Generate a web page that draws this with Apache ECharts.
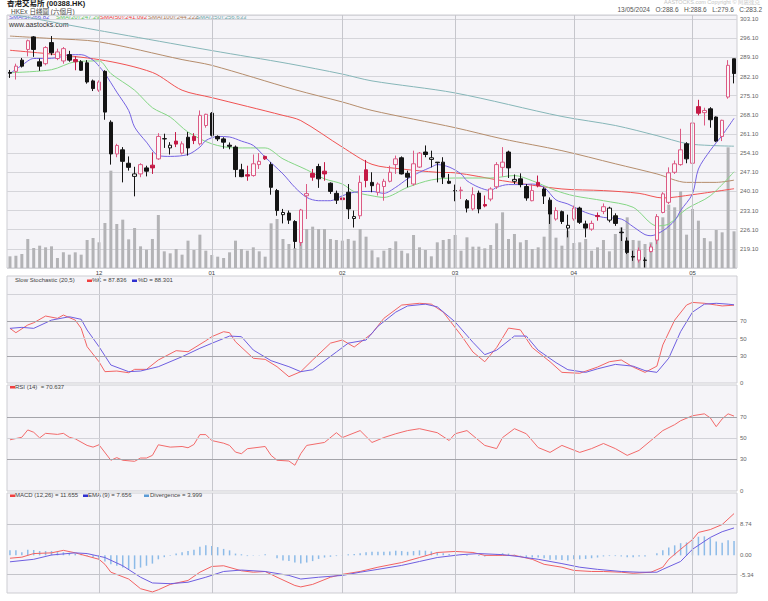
<!DOCTYPE html>
<html><head><meta charset="utf-8">
<script src="https://cdn.jsdelivr.net/npm/echarts@6/dist/echarts.min.js"></script>
<style>html,body{margin:0;padding:0;background:#fff}#c{width:768px;height:601px}</style>
</head><body><div id="c"></div>
<script>
// ---- trading days (categories) ----
const monthDays = [
 ['2023-11',[10,13,14,15,16,17,20,21,22,23,24,27,28,29,30]],
 ['2023-12',[1,4,5,6,7,8,11,12,13,14,15,18,19,20,21,22,27,28,29]],
 ['2024-01',[2,3,4,5,8,9,10,11,12,15,16,17,18,19,22,23,24,25,26,29,30,31]],
 ['2024-02',[1,2,5,6,7,8,9,14,15,16,19,20,21,22,23,26,27,28,29]],
 ['2024-03',[1,4,5,6,7,8,11,12,13,14,15,18,19,20,21,22,25,26,27,28]],
 ['2024-04',[2,3,5,8,9,10,11,12,15,16,17,18,19,22,23,24,25,26,29,30]],
 ['2024-05',[2,3,6,7,8,9,10,13]]
];
// ---- daily [open, high, low, close] ----
const ohlc = [
[283.6,284.5,281.6,283.3],[284.0,286.8,281.0,285.9],[288.1,288.9,285.4,285.9],[292.0,295.6,289.5,295.2],[296.6,296.9,289.3,292.0],
[287.5,288.7,284.2,285.9],[286.8,293.2,286.2,292.7],[294.5,296.9,289.9,290.8],[288.7,292.3,288.1,291.1],[287.8,292.9,286.8,292.3],
[290.1,291.5,287.5,288.1],[288.3,289.5,284.4,287.5],[287.5,288.1,284.2,284.4],[287.1,288.1,279.5,280.1],[280.5,281.0,276.8,277.7],
[277.1,280.7,276.5,280.1],[284.0,284.4,266.3,269.1],[265.4,266.1,249.9,253.8],[253.8,257.5,252.6,256.9],[255.3,256.3,243.4,251.1],
[250.4,252.9,247.7,248.9],[245.6,249.1,238.3,246.5],[246.5,250.4,245.3,249.9],[248.7,249.5,245.6,247.5],[249.7,254.4,246.5,248.7],
[252.0,261.4,251.6,260.2],[259.4,261.2,256.0,259.3],[256.0,258.1,253.6,257.0],[258.5,261.8,256.3,257.4],[254.1,258.4,253.6,257.5],
[259.9,261.8,253.2,256.0],[260.2,261.4,257.4,258.7],[257.5,269.7,256.9,267.9],[264.2,268.5,263.4,268.3],[268.7,269.1,260.2,260.6],
[260.2,260.6,258.5,259.3],[259.3,259.9,255.7,258.1],[257.0,258.0,255.5,256.6],[256.3,256.9,245.3,248.1],[248.0,250.2,245.3,245.5],
[246.2,249.5,244.0,245.7],[245.9,253.6,245.5,250.2],[249.9,254.1,248.3,251.1],[252.9,253.2,251.6,252.0],[249.9,250.8,238.9,241.6],
[240.4,241.0,231.2,233.1],[231.6,233.7,228.4,232.4],[232.2,233.1,228.2,229.6],[229.1,229.6,219.3,221.8],[221.4,233.7,220.2,233.3],
[238.5,242.8,230.0,239.3],[246.7,248.3,244.0,245.3],[249.2,250.2,241.4,244.7],[247.5,250.8,244.0,246.5],[243.1,243.4,239.2,240.1],
[239.4,240.4,235.5,236.9],[237.7,238.5,235.5,237.1],[239.8,242.8,230.0,233.7],[230.2,233.1,226.9,230.9],[231.2,245.9,230.0,243.4],
[248.0,251.6,241.6,244.1],[243.4,247.1,239.8,242.2],[239.8,243.4,238.6,242.8],[241.9,244.7,236.7,243.8],[243.8,249.5,243.4,247.1],
[249.9,253.2,246.5,252.0],[252.4,252.9,246.3,246.5],[246.7,247.7,241.6,245.3],[242.8,255.0,242.2,250.2],[249.0,254.5,248.7,254.1],
[254.5,256.9,252.6,253.6],[251.8,255.0,248.9,252.4],[250.8,250.8,243.4,250.6],[250.8,252.6,242.8,245.3],[243.8,246.5,242.8,243.1],
[240.4,242.6,236.5,240.3],[240.4,241.8,237.3,240.6],[236.7,237.3,232.4,234.0],[233.7,241.6,233.1,238.9],[239.5,240.4,232.1,233.7],
[235.3,238.6,234.3,234.8],[237.3,241.6,236.5,241.0],[241.8,250.8,241.0,249.9],[248.9,256.3,245.5,250.8],[254.5,255.0,245.0,248.7],
[243.8,246.3,242.8,244.5],[244.7,246.7,241.6,242.6],[241.9,242.8,236.7,237.7],[236.7,242.8,236.5,240.4],[243.4,245.9,241.6,242.2],
[241.0,241.6,235.5,238.4],[236.9,237.9,228.2,231.8],[230.0,234.3,229.4,233.1],[232.7,233.1,228.2,229.1],[226.7,231.6,223.3,227.7],
[230.0,234.9,229.4,234.0],[234.0,234.5,228.2,228.8],[228.2,229.4,223.3,226.7],[226.3,229.4,225.7,228.4],[231.3,232.4,229.4,230.9],
[232.8,235.7,231.8,234.5],[229.6,234.5,228.8,234.0],[231.2,232.1,227.5,228.4],[225.2,226.9,222.0,225.0],[222.0,223.3,217.2,217.8],
[216.3,218.4,214.7,216.1],[215.0,219.6,214.1,218.6],[215.0,216.0,212.3,214.9],[218.1,220.8,217.8,219.8],[222.3,231.8,220.8,230.9],
[232.4,239.8,232.1,239.2],[236.1,248.9,235.5,246.9],[247.1,251.4,246.5,250.2],[249.9,263.0,249.5,255.3],[257.5,258.1,250.4,252.0],
[250.4,266.1,250.2,265.1],[271.1,273.6,267.9,268.7],[268.9,270.7,264.2,269.7],[270.3,270.9,263.4,266.3],[267.3,267.5,258.1,258.5],
[260.2,266.3,258.5,266.1],[274.6,288.1,274.0,286.2],[288.6,288.6,279.6,283.2]
];
const crimsonDays = [11,24,28,31,40,43,51,53,56,60,80,89,99,116];
const hollowBlackDays = [21,27,46,58,71,85,94,101];
const volume = [3.5,3.7,4.2,8.7,6.0,6.7,6.2,6.5,3.0,4.7, 4.0,4.7,4.0,8.4,9.0,7.7,13.5,29.2,13.2,14.5,
 8.6,12.0,6.5,5.5,8.7,15.9,5.0,4.4,5.7,4.0, 8.2,5.4,10.0,5.2,3.9,3.4,3.0,4.7,8.2,5.7,
 5.2,6.2,5.0,3.4,13.4,14.7,8.7,7.2,6.0,9.2, 11.7,12.4,11.7,11.7,8.7,8.4,8.2,8.7,8.2,11.7,
 9.4,5.3,3.2,5.2,6.0,8.0,5.2,4.4,9.9,6.2, 5.4,3.5,7.7,8.4,8.7,9.9,5.2,9.2,6.4,6.4,
 5.9,6.9,13.4,16.7,8.7,10.2,7.7,8.4,5.7,6.2, 9.4,16.0,9.1,6.7,11.2,7.5,7.7,8.7,5.2,6.2,
 8.4,5.0,10.2,12.2,15.2,8.4,8.2,7.2,7.7,12.2, 15.2,19.0,18.2,23.0,10.0,17.7,14.2,9.0,8.0,11.4,
 10.7,36.2,11.0];
// ---- moving averages read at [dayIndex, value] ----
const sma5 = [[0,283.2],[2,286.2],[4,288.7],[6,288.7],[8,289.0],[10,290.1],[12,290.1],[14,288.1],[15,285.9],[16,283.2],[18,276.4],[20,269.7],[21,263.6],[23,258.1],[25,253.2],[27,252.9],[30,253.6],[32,256.3],[33,258.7],[35,260.2],[37,260.0],[39,258.5],[41,256.9],[43,252.6],[46,246.5],[48,241.6],[50,237.9],[52,236.7],[54,236.7],[56,238.5],[58,239.8],[61,240.1],[63,239.4],[65,241.6],[67,244.7],[69,247.1],[71,249.0],[72,249.9],[74,249.0],[76,246.5],[77,244.0],[79,241.6],[81,240.4],[82,241.6],[84,242.6],[86,242.6],[88,242.8],[90,241.6],[92,237.0],[94,235.5],[97,232.4],[100,230.6],[103,230.0],[105,227.2],[107,224.3],[108,223.9],[110,225.7],[112,229.4],[113,233.1],[115,239.2],[116,248.3],[118,255.1],[120,260.6],[122,266.82]];
const sma20 = [[0,283.5],[7,284.6],[11,287.5],[15,287.8],[17,283.2],[21,277.1],[24,270.7],[27,267.3],[30,261.8],[34,257.5],[38,256.0],[43,256.0],[46,252.0],[50,248.0],[53,244.7],[56,242.8],[58,240.0],[61,238.5],[63,237.9],[67,241.6],[71,244.3],[75,245.0],[81,245.0],[85,245.9],[88,244.0],[92,240.4],[95,238.5],[100,236.7],[105,234.3],[109,227.5],[111,228.2],[114,233.7],[118,238.5],[122,247.29]];
const sma50 = [[0,291.7],[15,288.3],[24,283.6],[29,277.1],[34,274.4],[46,267.9],[49,266.0],[56,256.3],[61,250.0],[66,248.3],[72,247.1],[75,246.9],[83,244.0],[93,241.0],[100,240.4],[106,239.4],[110,237.7],[115,238.9],[122,241.092]];
const sma100 = [[0,296.9],[7,296.0],[15,294.8],[29,288.3],[34,286.2],[48,277.3],[56,272.8],[61,269.7],[75,263.4],[83,259.3],[93,255.0],[102,250.2],[109,246.5],[114,243.4],[119,243.4],[122,244.222]];
const sma250 = [[0,305.0],[9,301.3],[20,297.0],[34,291.6],[47,286.8],[56,283.0],[61,280.5],[75,276.1],[93,267.5],[102,264.2],[109,260.5],[114,257.6],[118,256.9],[122,256.633]];
// ---- slow stochastic ----
const stochK = [[0,61.7],[1,56.8],[3,65.5],[4,68],[6,75.6],[8,73],[9,76.7],[11,71],[12,61.7],[13,41],[15,24],[16,12.8],[18,13.5],[20,11.6],[21,15.4],[23,15.4],[25,26],[28,36.5],[30,35.3],[33,47.7],[34,52.3],[36,57.9],[37,56.8],[38,46.6],[41,27.9],[43,26.7],[45,18.4],[47,7.1],[49,12.8],[51,26],[54,45],[56,48.5],[58,40.6],[61,56],[63,73],[66,88],[69,90],[71,89],[73,80],[76,54],[78,35],[80,24],[82,40],[84,62],[86,60],[88,40],[91,24],[93,12],[96,11],[99,18],[101,24],[103,26],[105,18],[107,12],[109,19],[110,43],[112,71],[114,88],[115,91],[117,90],[119,88],[120,87],[122,87.836]];
const stochD = [[0,61.7],[2,62.8],[4,61.7],[7,71],[10,74.8],[12,71.9],[13,59.8],[15,41],[17,20.3],[20,12.8],[22,13.5],[25,18.4],[29,29.7],[32,39.2],[34,44.8],[37,53],[39,52.3],[41,37.2],[44,25.2],[47,18.4],[49,12.8],[51,15],[55,35],[57,45],[60,48.5],[62,64],[65,80],[67,87],[70,89],[72,86],[75,69],[78,46],[80,32],[82,37],[85,53],[87,53],[89,37],[92,23],[94,15],[97,12],[99,16],[102,21],[105,19],[107,14],[109,12],[111,28],[113,58],[115,80],[117,89],[119,90],[121,89],[122,88.301]];
// ---- RSI(14) ----
const rsi = [[0,48.3],[2,50.7],[3,57.6],[4,55.4],[5,50.1],[6,54.4],[8,53.4],[9,54.4],[10,50.7],[11,49.2],[13,43],[14,41.4],[15,43.6],[17,29],[18,31.5],[19,29],[21,28],[22,31.1],[23,31.1],[24,33.6],[25,43.6],[27,41.4],[29,42],[30,40.8],[31,43.9],[32,53.2],[33,53.2],[34,47.6],[36,45.1],[37,43],[38,36.7],[39,35.2],[40,39.9],[43,42],[44,33.6],[45,29],[47,28.3],[48,24.3],[49,35.2],[50,43],[53,45.8],[55,55],[56,50.4],[59,57],[61,45.8],[63,50.4],[65,54],[67,57],[69,58.8],[72,55],[74,47.6],[75,54],[77,57],[80,43],[82,40],[83,50.4],[85,58.8],[87,54],[89,41],[91,36.4],[93,43],[96,36.4],[98,40],[100,44.8],[102,40],[104,33.6],[106,38.3],[108,47.6],[110,57],[112,62.6],[113,66.3],[115,71],[117,72.8],[118,69],[119,60.7],[120,68],[121,72.8],[122,70.637]];
// ---- MACD(12,26), EMA(9), divergence ----
const macd = [[0,-0.8],[2,-0.5],[4,0.5],[7,0.7],[9,1.4],[11,0.7],[13,-0.2],[15,-1.1],[16,-2.5],[17,-4.7],[20,-6.6],[22,-9.3],[24,-10.2],[25,-9.6],[27,-8.1],[30,-7.0],[32,-4.7],[34,-3.1],[36,-2.9],[39,-4.3],[41,-4.7],[43,-4.5],[45,-6.1],[48,-8.4],[49,-8.8],[51,-8.1],[54,-6.1],[56,-5.3],[59,-4.5],[62,-3.3],[66,-2.0],[69,-0.6],[72,0.8],[75,1.1],[78,0.8],[80,0],[83,0],[85,0],[88,-1.1],[90,-2.5],[93,-3.3],[95,-4.2],[98,-4.5],[100,-4.5],[103,-4.7],[105,-5.0],[108,-4.7],[110,-3.3],[111,-1.1],[113,1.7],[115,4.4],[116,6.4],[118,7.2],[120,8.6],[122,11.655]];
const ema9 = [[0,-1.8],[4,-1.1],[7,0.1],[11,0.7],[13,0.5],[16,-0.6],[19,-2.9],[22,-6.1],[24,-7.7],[27,-7.9],[30,-7.5],[33,-6.1],[36,-4.5],[39,-4.1],[43,-4.5],[47,-5.6],[49,-6.6],[52,-6.1],[56,-5.6],[59,-4.7],[62,-3.9],[66,-2.8],[69,-1.7],[72,-0.6],[76,0.2],[79,0.5],[83,0.2],[86,-0.4],[89,-1.1],[93,-2.3],[96,-3.3],[99,-3.9],[103,-4.5],[106,-4.7],[109,-4.7],[110,-3.9],[113,-1.7],[115,1.7],[118,5.0],[120,6.6],[122,7.656]];
const divergence = [1.4,1.4,0.9,1.6,1.5,1.2,1.2,1.2,0.9,0.9, 0.7,0.5,0.3,-0.2,-0.6,-1.1,-1.7,-2.5,-2.9,-3.4,
 -3.8,-3.8,-3.4,-2.9,-2.3,-1.1,-0.5,-0.1,0.5,0.9, 1.2,1.6,2.4,2.8,2.6,2.3,1.8,1.4,0.5,0.3,
 -0.2,0.1,0.1,0.3,0.0,-0.8,-1.4,-1.6,-2.0,-2.3, -2.0,-1.6,-1.0,-0.6,-0.4,-0.2,0.1,0.3,0.4,0.6,
 0.9,1.0,1.0,1.0,1.1,1.3,1.2,1.0,1.2,1.4, 1.3,1.1,0.9,0.6,0.4,0.2,0.1,-0.2,0.0,-0.2,
 -0.3,-0.1,0.3,0.6,0.5,0.2,-0.1,-0.5,-0.6,-0.6, -0.8,-1.2,-1.2,-1.3,-1.4,-1.1,-1.1,-1.0,-0.8,-0.6,
 -0.3,-0.2,-0.2,-0.3,-0.5,-0.5,-0.3,-0.3,0.0,0.6, 1.4,2.2,2.8,3.4,3.6,4.4,5.2,5.3,4.8,3.9,
 3.5,4.2,4.0];
// ---- axis tick labels ----
const stochTicks = [70,50,30,0];
const rsiTicks = [70,50,30,0];
const macdTicks = [8.74,0,-5.34];

// ===== build =====
const dates = [];
const monthStarts = [];
monthDays.forEach(([m, ds]) => { monthStarts.push(dates.length); ds.forEach(d => dates.push(m + '-' + String(d).padStart(2,'0'))); });
monthStarts.shift(); // first visible month is partial

const UP_FILL = '#fbf6f9', UP_LINE = '#dc5a84', DN = '#141414', CRIM = '#c41a46';
const candles = ohlc.map((r, i) => {
  const item = { value: [r[0], r[3], r[2], r[1]] };
  if (crimsonDays.includes(i)) item.itemStyle = { color: CRIM, color0: CRIM, borderColor: CRIM, borderColor0: CRIM };
  if (hollowBlackDays.includes(i)) item.itemStyle = { color: '#ffffff', borderColor: DN };
  return item;
});

const L = 7, R = 31;
const grids = [
  { left: L, right: R, top: 15, height: 253 },
  { left: L, right: R, top: 276, height: 107 },
  { left: L, right: R, top: 385, height: 106 },
  { left: L, right: R, top: 493, height: 100 }
].map(g => Object.assign(g, { show: true, backgroundColor: '#f5f4f8', borderColor: '#cdcdd2', borderWidth: 1, containLabel: false }));

const xAxes = grids.map((g, gi) => ({
  type: 'category', gridIndex: gi, data: dates, boundaryGap: true,
  axisLine: { show: false }, axisTick: { show: false }, splitLine: { show: false },
  axisLabel: gi === 0 ? { interval: (idx) => monthStarts.includes(idx), formatter: v => v.slice(5,7), fontSize: 6, color: '#444', margin: 2, fontFamily: 'Liberation Sans' } : { show: false }
}));

const hidden = { axisLine: { show: false }, axisTick: { show: false }, axisLabel: { show: false }, splitLine: { show: false } };
const yAxes = [
  { type: 'value', gridIndex: 0, position: 'right', min: 212.1, max: 304.6, interval: 7,
    axisLine: { show: false }, axisTick: { show: false },
    axisLabel: { formatter: v => v.toFixed(2), fontSize: 6, color: '#666', margin: 3, showMinLabel: false, showMaxLabel: false, fontFamily: 'Liberation Sans' },
    splitLine: { lineStyle: { color: '#d5d5da', width: 1 } } },
  Object.assign({ type: 'value', gridIndex: 0, min: 0, max: 75.9 }, hidden),
  Object.assign({ type: 'value', gridIndex: 1, min: 0, max: 120.8 }, hidden),
  Object.assign({ type: 'value', gridIndex: 2, min: 0, max: 100 }, hidden),
  Object.assign({ type: 'value', gridIndex: 3, min: -10.5, max: 17.4 }, hidden)
];

const lblStyle = { show: true, position: 'end', fontSize: 6, color: '#666', distance: 3, fontFamily: 'Liberation Sans' };
const vLines = monthStarts.map(i => ({ xAxis: i, lineStyle: { color: '#c6c6cc', width: 1, type: 'solid' }, label: { show: false } }));
function hLine(v, color, fmt, showLine) {
  return { yAxis: v, lineStyle: { color: showLine ? color : 'rgba(0,0,0,0)', width: 1, type: 'solid' },
           label: fmt === null ? { show: false } : Object.assign({}, lblStyle, { formatter: fmt }) };
}
const ml = (data) => ({ silent: true, symbol: ['none','none'], animation: false, data: data });

const line = (name, data, color, xi, yi, extra) => Object.assign({
  name, type: 'line', data, xAxisIndex: xi, yAxisIndex: yi, showSymbol: false, symbol: 'none',
  lineStyle: { color, width: 1 }, itemStyle: { color }, silent: true, z: 3
}, extra || {});

const series = [
  { name: 'Volume', type: 'bar', data: volume, xAxisIndex: 0, yAxisIndex: 1, barWidth: 3,
    itemStyle: { color: '#b3b3b6' }, silent: true, z: 1, markLine: ml(vLines) },
  line('SMA250', sma250, '#86b6b8', 0, 0, { smooth: 0.3 }),
  line('SMA100', sma100, '#b58d6c', 0, 0, { smooth: 0.3 }),
  line('SMA50', sma50, '#f05252', 0, 0, { smooth: 0.3 }),
  line('SMA20', sma20, '#85d685', 0, 0, { smooth: 0.3 }),
  line('SMA5', sma5, '#7563e2', 0, 0, { smooth: 0.3 }),
  { name: 'K', type: 'candlestick', data: candles, xAxisIndex: 0, yAxisIndex: 0, barWidth: 4, silent: true, z: 4,
    itemStyle: { color: UP_FILL, color0: DN, borderColor: UP_LINE, borderColor0: DN, borderColorDoji: DN, borderWidth: 1 } },
  line('%K', stochK, '#f26464', 1, 2, { markLine: ml(vLines.concat([
    hLine(100, '#d2d2d8', null, true), hLine(70, '#a4a4aa', v => String(stochTicks[0]), true),
    hLine(50, '#d2d2d8', v => String(stochTicks[1]), true), hLine(30, '#a4a4aa', v => String(stochTicks[2]), true),
    hLine(0, '#a4a4aa', v => String(stochTicks[3]), false)])) }),
  line('%D', stochD, '#6e5ee0', 1, 2),
  line('RSI', rsi, '#f26a6a', 2, 3, { markLine: ml(vLines.concat([
    hLine(70, '#a4a4aa', v => String(rsiTicks[0]), true), hLine(50, '#d2d2d8', v => String(rsiTicks[1]), true),
    hLine(30, '#a4a4aa', v => String(rsiTicks[2]), true), hLine(0, '#a4a4aa', v => String(rsiTicks[3]), false)])) }),
  { name: 'Divergence', type: 'bar', data: divergence, xAxisIndex: 3, yAxisIndex: 4, barWidth: 1.5,
    itemStyle: { color: '#8dbbe8' }, silent: true, z: 2,
    markLine: ml(vLines.concat([hLine(macdTicks[0], '#c4c4ca', v => macdTicks[0].toFixed(2), true),
      hLine(macdTicks[1], '#c4c4ca', v => macdTicks[1].toFixed(2), false),
      hLine(macdTicks[2], '#c4c4ca', v => macdTicks[2].toFixed(2), true)])) },
  line('MACD', macd, '#f26262', 3, 4),
  line('EMA', ema9, '#6e5ee0', 3, 4)
];

const F = 'Liberation Sans, DejaVu Sans, Noto Sans CJK TC, sans-serif';
const T = (x, y, text, fill, size, extra) => ({ type: 'text', left: x, top: y, silent: true,
  style: Object.assign({ text, fill, font: (extra && extra.bold ? 'bold ' : '') + size + 'px ' + F }, extra && extra.style || {}) });
const sw = (x, y, color) => ({ type: 'rect', left: x, top: y, silent: true, shape: { width: 5, height: 2.5 }, style: { fill: color } });

const graphic = [
  T(7, 0, '香港交易所 (00388.HK)', '#1a1a1a', 7.5, { bold: true }),
  T(11, 8, 'HKEx 日綫圖 (六個月)', '#444', 6.5),
  T(9, 13.5, 'SMA(5):266.82', '#5656d8', 6),
  T(56, 13.5, 'SMA(20):247.29', '#5cc45c', 6),
  T(100, 13.5, 'SMA(50):241.092', '#ee3b3b', 6),
  T(148, 13.5, 'SMA(100):244.222', '#ad7a55', 6),
  T(196, 13.5, 'SMA(250):256.633', '#6aa6a8', 6),
  T(9, 20.5, 'www.aastocks.com', '#333', 7),
  { type: 'text', right: 8, top: -0.5, silent: true, style: { text: 'AASTOCKS.com Copyright © 阿思達克', fill: '#c4c4c4', font: '5.5px ' + F } },
  { type: 'text', right: 6, top: 6.5, silent: true, style: { text: '13/05/2024   O:288.6   H:288.6   L:279.6   C:283.2', fill: '#555', font: '6.5px ' + F } },
  T(15, 277, 'Slow Stochastic (20,5)', '#444', 6),
  sw(87, 279.5, '#f04040'), T(92, 277, '%K = 87.836', '#444', 6),
  sw(132, 279.5, '#3030d0'), T(138, 277, '%D = 88.301', '#444', 6),
  sw(10, 386, '#f04040'), T(15, 383.5, 'RSI (14)  = 70.637', '#444', 6),
  sw(10, 494.5, '#f04040'), T(15, 492, 'MACD (12,26) = 11.655', '#444', 6),
  sw(83, 494.5, '#3030d0'), T(88, 492, 'EMA (9) = 7.656', '#444', 6),
  sw(144, 494.5, '#5b9bd5'), T(150, 492, 'Divergence = 3.999', '#444', 6)
];

const chart = echarts.init(document.getElementById('c'), null, { renderer: 'svg' });
chart.setOption({ animation: false, backgroundColor: '#ffffff', grid: grids, xAxis: xAxes, yAxis: yAxes, series, graphic,
  textStyle: { fontFamily: F } });
</script></body></html>
